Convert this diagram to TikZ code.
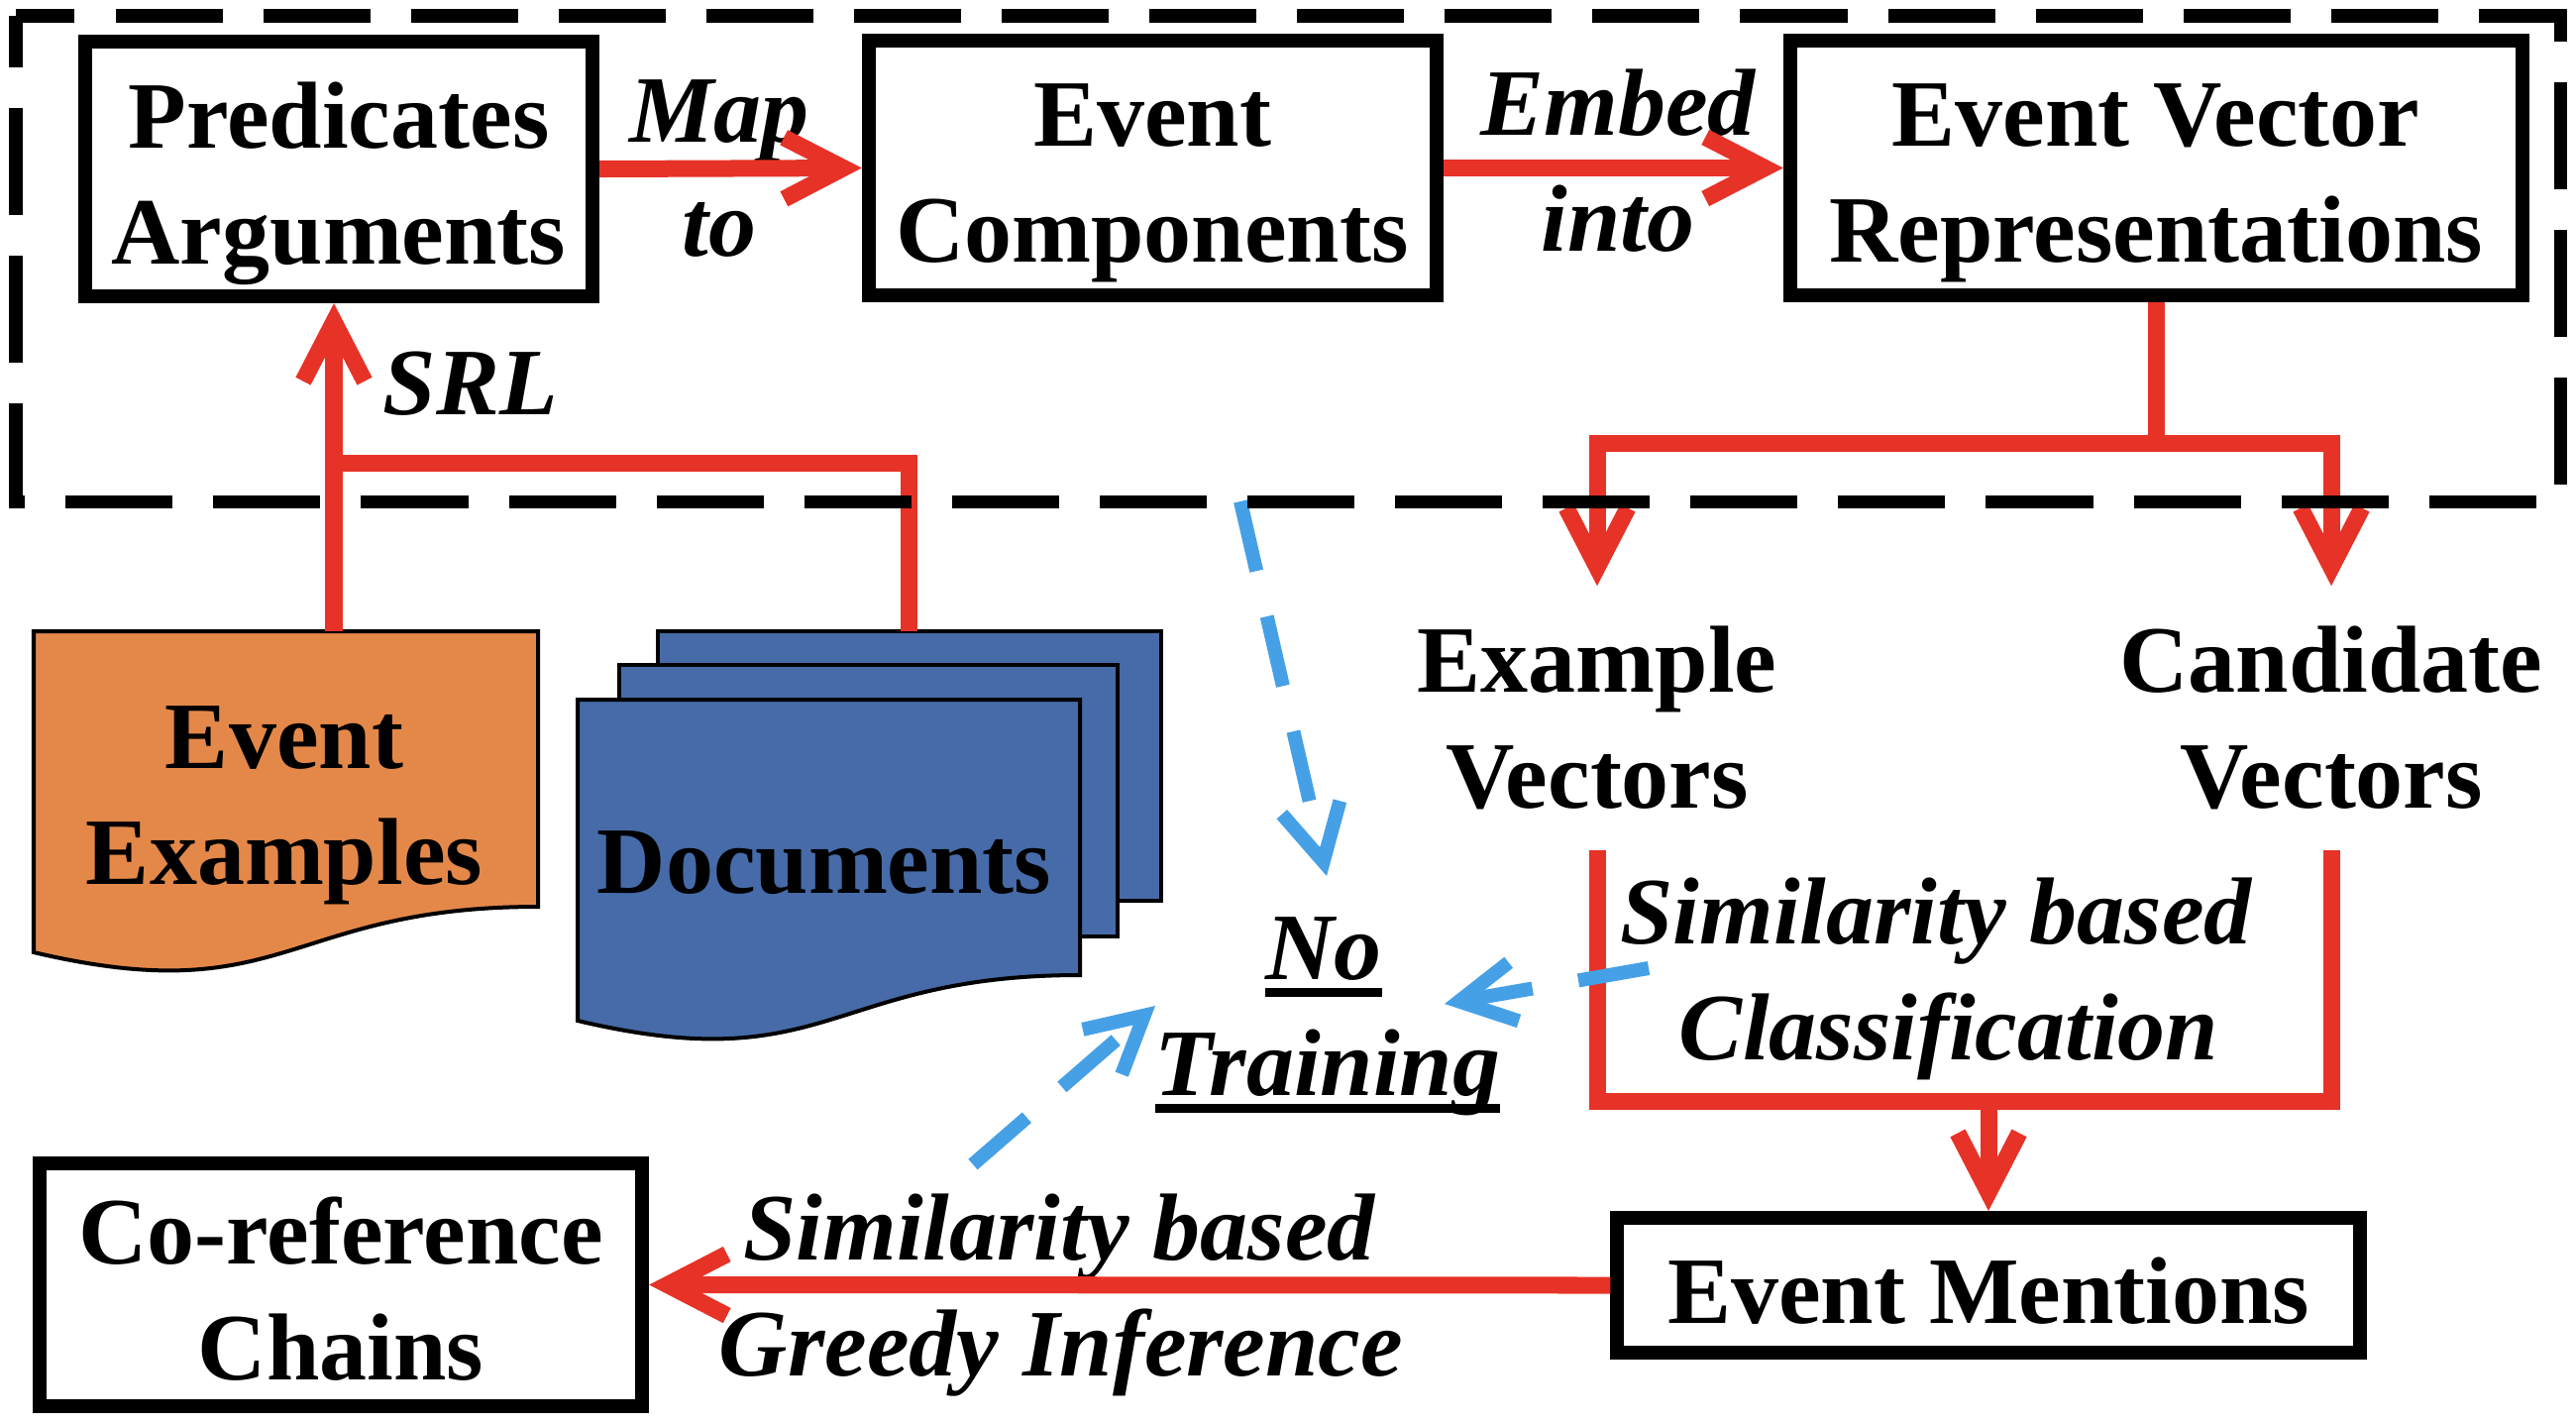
\documentclass[tikz,border=0pt]{standalone}
\usepackage{fontspec}
\setmainfont{Liberation Serif}
\usetikzlibrary{arrows.meta}
\definecolor{myred}{RGB}{231,50,39}
\definecolor{myblue}{RGB}{70,160,230}
\definecolor{docorange}{RGB}{228,136,74}
\definecolor{docblue}{RGB}{70,107,168}
\newcommand{\thul}[1]{\setbox0\hbox{#1}\rlap{\rule[-5.1pt]{\wd0}{2.5pt}}\box0}
\begin{document}
\begin{tikzpicture}[x=0.01cm,y=-0.01cm,
  font=\fontsize{27.3pt}{33.3pt}\selectfont\bfseries,
  boxnode/.style={draw=black, line width=0.14cm, inner sep=0pt},
  txt/.style={inner sep=0pt, align=center},
  lab/.style={inner sep=0pt, anchor=base, font=\fontsize{27.3pt}{33.3pt}\selectfont\bfseries\itshape},
  redline/.style={draw=myred, line width=0.17cm},
  redarrow/.style={redline, -{Straight Barb[length=0.6cm,width=0.62cm]}},
  bluearrow/.style={draw=myblue, line width=0.14cm, dash pattern=on 0.72cm off 0.47cm, -{Straight Barb[length=0.56cm,width=0.6cm]}},
  docline/.style={draw=black, line width=0.04cm},
]
\useasboundingbox (0,0) rectangle (2600,1436);

% documents
\filldraw[docline, fill=docblue] (664,637) rectangle (1172,909);
\filldraw[docline, fill=docblue] (625,671) rectangle (1128,945);
\filldraw[docline, fill=docblue] (583,706) -- (1090,706) -- (1090,984) .. controls (836.5,984) and (836.5,1090) .. (583,1030) -- cycle;
\filldraw[docline, fill=docorange] (34,637) -- (543,637) -- (543,915) .. controls (288.5,915) and (288.5,1021) .. (34,961) -- cycle;
\node[txt] (extxt) at (287,813) {Event\\Examples};
\node[txt, anchor=base] (docstxt) at (832,901) {Documents};

% boxes
\node[boxnode, minimum width=5.12cm, minimum height=2.57cm] (pred) at (342,170.5) {};
\node[txt] (predtxt) at (342,185) {Predicates\\Arguments};
\node[boxnode, minimum width=5.73cm, minimum height=2.57cm] (ec) at (1163.5,169.5) {};
\node[txt] (ectxt) at (1163,185) {Event\\Components};
\node[boxnode, minimum width=7.39cm, minimum height=2.57cm] (evr) at (2176.5,169.5) {};
\node[txt] (evrtxt) at (2176,185) {Event Vector\\Representations};
\node[boxnode, minimum width=7.49cm, minimum height=1.36cm] (em) at (2007,1297) {};
\node[txt, anchor=base] (emtxt) at (2007,1335) {Event Mentions};
\node[boxnode, minimum width=6.08cm, minimum height=2.45cm] (coref) at (344,1296.5) {};
\node[txt] (coreftxt) at (344,1301) {Co-reference\\Chains};

\node[txt, inner sep=0.4cm] (exv) at (1612,724.5) {Example\\Vectors};
\node[txt, inner sep=0.4cm] (cand) at (2353,724.5) {Candidate\\Vectors};

% labels
\node[lab] (lmap) at (726,143) {Map};
\node[lab] (lto) at (726,258) {to};
\node[lab] (lembed) at (1633,136) {Embed};
\node[lab] (linto) at (1633,253) {into};
\node[lab] (lsrl) at (475,418) {SRL};
\node[lab] (lsim1) at (1954,952) {Similarity based};
\node[lab] (lcls) at (1967,1069) {Classification};
\node[lab] (lsim2) at (1069,1271) {Similarity based};
\node[lab] (lgreedy) at (1071,1388) {Greedy Inference};
\node[lab] (lno) at (1336,988) {\thul{No}};
\node[lab] (ltrain) at (1340,1105) {\thul{Training}};

% red connectors
\draw[redarrow] (pred.east) -- (ec.west);
\draw[redarrow] (ec.east) -- (evr.west);
\coordinate (br) at (2176.5,447);
\draw[redline] (evr.south) -- (br);
\draw[redarrow] (br) -| (exv.north);
\draw[redarrow] (br) -| (cand.north);
\coordinate (uj) at (2007,1111);
\draw[redline] (exv.south) |- (uj) -| (cand.south);
\draw[redarrow] (uj) -- (em.north);
\draw[redarrow] (em.west) -- (coref.east);
\coordinate (docstop) at (917,637);
\coordinate (exstop) at (337,637);
\coordinate (srlj) at (337,467);
\draw[redline] (docstop) |- (srlj);
\draw[redarrow] (exstop) -- (exstop |- pred.south);

% blue dashed arrows
\coordinate (ba1) at (1252,506); \coordinate (ta1) at (1339,884);
\coordinate (ba2) at (1664,977); \coordinate (ta2) at (1458,1013);
\coordinate (ba3) at (982,1175); \coordinate (ta3) at (1166,1015);
\draw[bluearrow] (ba1) -- (ta1);
\draw[bluearrow] (ba2) -- (ta2);
\draw[bluearrow] (ba3) -- (ta3);

% dashed frame
\draw[line width=0.13cm, dash pattern=on 1.08cm off 0.41cm, dash phase=0.56cm] (16,16) rectangle (2584,506);
\end{tikzpicture}
\end{document}
